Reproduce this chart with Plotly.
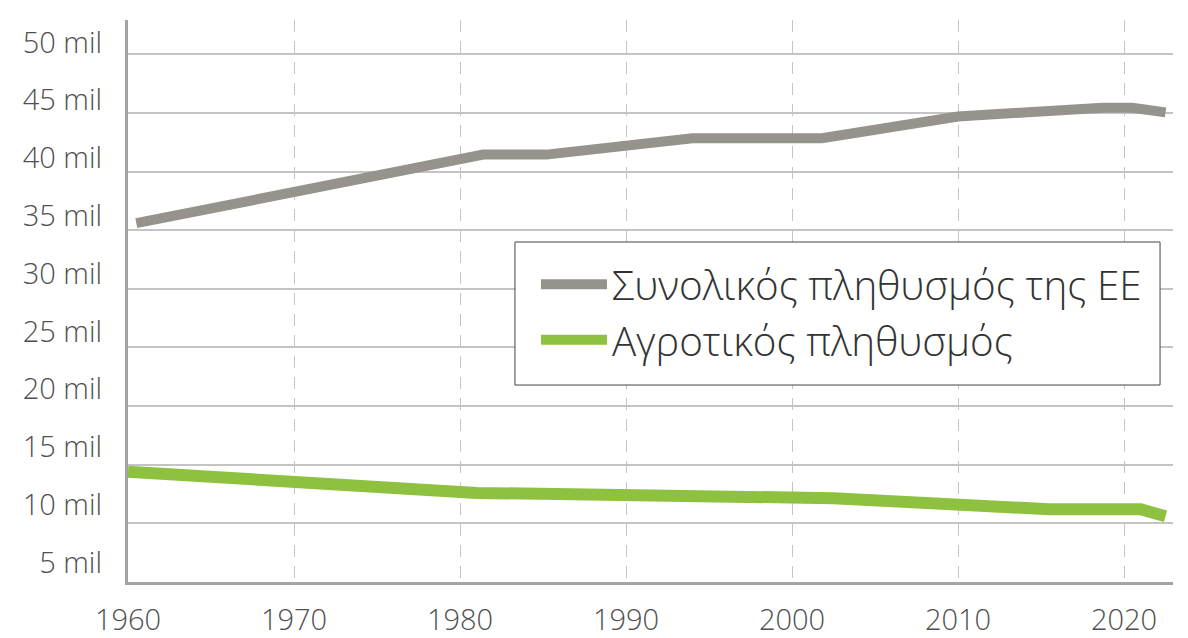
import plotly.graph_objects as go

# ---- data ----
total_years = [1960.5, 1981.4, 1985.2, 1994.0, 2001.8, 2010.0, 2018.7, 2020.5, 2022.5]
total_pop = [35.6, 41.45, 41.45, 42.85, 42.85, 44.7, 45.45, 45.45, 45.05]

farm_years = [1960.0, 1981.0, 2002.5, 2010.0, 2015.5, 2021.0, 2022.5]
farm_pop = [14.4, 12.6, 12.15, 11.6, 11.2, 11.2, 10.6]

series_names = ["Συνολικός πληθυσμός της ΕΕ", "Αγροτικός πληθυσμός"]

x_ticks = [1960, 1970, 1980, 1990, 2000, 2010, 2020]
y_ticks = [5, 10, 15, 20, 25, 30, 35, 40, 45, 50]
y_ticktext = [f"{v} mil" for v in y_ticks]

GRAY = "#96938c"
GREEN = "#8dc13f"
FONT = "Open Sans"

fig = go.Figure()
fig.add_trace(go.Scatter(x=total_years, y=total_pop, mode="lines", name=series_names[0],
                         legendgroup="a", line=dict(color=GRAY, width=10)))
fig.add_trace(go.Scatter(x=farm_years, y=farm_pop, mode="lines", name=series_names[1],
                         legendgroup="b", line=dict(color=GREEN, width=12)))
# label-only axis (tick labels sit slightly above the gridlines in the reference)
fig.add_trace(go.Scatter(x=[None], y=[None], yaxis="y2", showlegend=False,
                         hoverinfo="skip", mode="lines"))

# legend frame (white box with dark border)
fig.add_shape(type="rect", xref="paper", yref="paper",
              x0=0.3703, x1=0.9876, y0=0.3505, y1=0.605,
              fillcolor="white", line=dict(color="#444444", width=1), layer="above")

fig.update_layout(
    width=1172, height=630,
    margin=dict(l=120, r=7, t=12, b=56, autoexpand=False),
    paper_bgcolor="white", plot_bgcolor="white",
    font=dict(family=FONT, color="#555555"),
    showlegend=True,
    legend=dict(
        x=0.3904, y=0.588, xanchor="left", yanchor="top",
        bgcolor="rgba(0,0,0,0)", borderwidth=0,
        font=dict(family=FONT, size=40.4, color="#333333", weight=300),
        itemwidth=66, tracegroupgap=0,
    ),
    xaxis=dict(
        range=[1960, 2022.95], tickvals=x_ticks, ticktext=[str(v) for v in x_ticks],
        showgrid=True, gridcolor="#c4c4c4", gridwidth=1.2, griddash="12px,9px",
        showline=True, linecolor="#a3a3a3", linewidth=2.5,
        ticks="", tickfont=dict(size=29, color="#505050", weight=300),
        ticklabelstandoff=10, zeroline=False, fixedrange=True, automargin=False,
    ),
    yaxis=dict(
        range=[5, 52.93], tickvals=y_ticks, showticklabels=False,
        showgrid=True, gridcolor="#c4c4c4", gridwidth=1.5,
        showline=True, linecolor="#a3a3a3", linewidth=2.5,
        ticks="", zeroline=False, fixedrange=True, automargin=False,
    ),
    yaxis2=dict(
        overlaying="y", side="left", range=[3.31, 51.95],
        tickvals=y_ticks, ticktext=y_ticktext,
        showgrid=False, showline=False, zeroline=False, ticks="",
        tickfont=dict(size=29, color="#505050", weight=300),
        ticklabelstandoff=25, fixedrange=True, automargin=False,
    ),
)

fig.write_html("out.html")
